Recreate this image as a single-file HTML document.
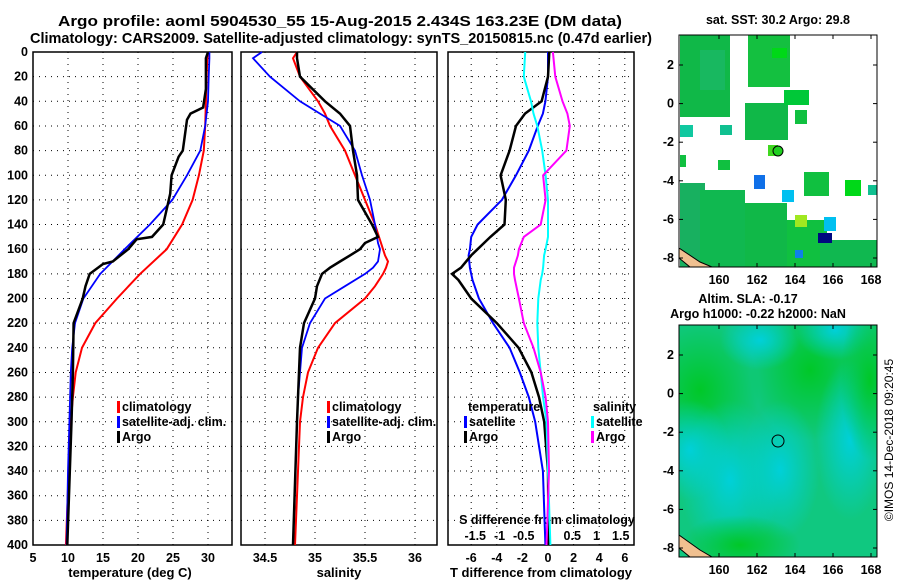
<!DOCTYPE html>
<html><head><meta charset="utf-8"><style>
body{margin:0;background:#fff;}
svg{display:block;font-family:"Liberation Sans",sans-serif;font-weight:bold;}
</style></head><body>
<svg id="c" width="900" height="580" viewBox="0 0 900 580">
<defs>
<radialGradient id="g1" cx="0.5" cy="0.5" r="0.5"><stop offset="0" stop-color="#00d0d8"/><stop offset="1" stop-color="#00d0d8" stop-opacity="0"/></radialGradient>
<radialGradient id="g2" cx="0.5" cy="0.5" r="0.5"><stop offset="0" stop-color="#00c828"/><stop offset="1" stop-color="#00c828" stop-opacity="0"/></radialGradient>
<clipPath id="cm1"><rect x="679" y="35" width="198" height="232"/></clipPath>
<clipPath id="cm2"><rect x="679" y="325" width="198" height="232"/></clipPath>
</defs>
<text x="340" y="26" font-size="15" text-anchor="middle" textLength="564" lengthAdjust="spacingAndGlyphs">Argo profile: aoml 5904530_55 15-Aug-2015 2.434S 163.23E (DM data)</text>
<text x="341" y="43" font-size="15" text-anchor="middle" textLength="622" lengthAdjust="spacingAndGlyphs">Climatology: CARS2009. Satellite-adjusted climatology: synTS_20150815.nc (0.47d earlier)</text>
<g id="p1"></g>
<g id="p2"></g>
<g id="p3"></g>
<g id="m1"></g>
<g id="m2"></g>
<text transform="translate(893,440) rotate(-90)" font-size="12" font-weight="normal" text-anchor="middle">©IMOS 14-Dec-2018 09:20:45</text>
</svg>
<script>
const NS="http://www.w3.org/2000/svg";
const depthsT=[0,5,20,40,60,80,100,120,140,160,180,200,220,240,260,280,300,340,400];
const tempClim=[30,29.9,29.8,29.7,29.6,29.4,28.7,27.8,26.3,24.1,20.3,17,13.9,12,11.1,10.7,10.4,10.1,9.7];
const tempSat=[30.2,30.2,30.1,30,29.6,28.9,27,24.9,21.7,18.1,14.6,12.2,11,10.6,10.4,10.3,10.2,10,9.8];
const depthsA=[0,5,30,45,50,55,80,85,100,115,125,140,150,152,160,170,172,180,190,200,220,260,300,400];
const tempArgo=[30,29.7,29.7,29.3,27.5,27,26.4,25.8,24.8,24.6,24.2,23.6,22,19.8,18.6,16.4,15,13.1,12.5,12.1,10.8,10.7,10.5,9.9];
const depthsS=[0,5,20,40,50,60,80,100,120,140,150,155,160,165,170,175,180,190,200,220,240,260,280,300,400];
const salClim=[34.82,34.78,34.85,35.03,35.1,35.15,35.3,35.4,35.5,35.6,35.64,35.66,35.68,35.7,35.73,35.71,35.68,35.6,35.5,35.2,35.03,34.93,34.88,34.85,34.8];
const salSat=[34.47,34.38,34.55,34.85,35.05,35.25,35.4,35.47,35.55,35.6,35.62,35.63,35.65,35.64,35.63,35.58,35.5,35.3,35.1,34.95,34.87,34.85,34.83,34.82,34.78];
const salArgo=[34.82,34.82,34.85,35.1,35.25,35.35,35.38,35.42,35.43,35.57,35.63,35.5,35.45,35.35,35.25,35.15,35.07,35.02,35,34.89,34.85,34.84,34.83,34.82,34.78];
const depthsD=[0,20,40,50,60,80,100,120,140,150,160,165,175,180,185,200,220,240,260,280,300,340,400];
const dTArgo=[0.1,0,-0.5,-1.8,-2.5,-3,-3.7,-3.3,-3.4,-4.5,-5.5,-6,-6.8,-7.5,-7,-6,-4,-2.3,-1.3,-0.7,-0.3,0,0.05];
const dTSat=[0,0,-0.2,-0.4,-0.8,-1.5,-2.5,-3.6,-5.5,-6,-6.1,-6.2,-6.1,-6,-5.9,-5.4,-4.3,-3,-2.2,-1.5,-1,-0.4,-0.2];
const dSSat=[-0.47,-0.5,-0.35,-0.3,-0.22,-0.12,-0.05,0,0,0,-0.05,-0.08,-0.1,-0.12,-0.15,-0.2,-0.22,-0.2,-0.15,-0.1,-0.03,0,0.05];
const dSArgo=[0.1,0.15,0.3,0.4,0.45,0.38,-0.1,-0.05,-0.15,-0.5,-0.6,-0.62,-0.7,-0.7,-0.68,-0.6,-0.5,-0.3,-0.15,-0.05,0,0.02,-0.03];
const depthTicks=[0,20,40,60,80,100,120,140,160,180,200,220,240,260,280,300,320,340,360,380,400];
const tTicks=[5,10,15,20,25,30];
const sTicks=[34.5,35,35.5,36];
const dTTicks=[-6,-4,-2,0,2,4,6];
const dSTicks=[-1.5,-1,-0.5,0,0.5,1,1.5];
const lonTicks=[160,162,164,166,168];
const latTicks=[2,0,-2,-4,-6,-8];

const Y=d=>52+d*1.2325;
function el(p,t,a){const e=document.createElementNS(NS,t);for(const k in a)e.setAttribute(k,a[k]);p.appendChild(e);return e;}
function txt(p,x,y,s,fs,anc){const e=el(p,'text',{x,y,'font-size':fs,'text-anchor':anc||'middle'});e.textContent=s;return e;}
function line(p,xs,ds,sx,col,w,name){
  const pts=xs.map((v,i)=>sx(v).toFixed(1)+','+Y(ds[i]).toFixed(1)).join(' ');
  const e=el(p,'polyline',{points:pts,fill:'none',stroke:col,'stroke-width':w});
  
  
}
function frame(p,x0,x1,ticks,sx,lab,name){
  const y0=Y(0),y1=Y(400);
  depthTicks.forEach(d=>{el(p,'line',{x1:x0,x2:x1,y1:Y(d),y2:Y(d),stroke:'#000','stroke-dasharray':'1,5','stroke-width':1});});
  ticks.forEach(t=>{el(p,'line',{x1:sx(t),x2:sx(t),y1:y0,y2:y1,stroke:'#000','stroke-dasharray':'1,5','stroke-width':1});
    if(lab){txt(p,sx(t),562,String(t),12.5);}});
  const r=el(p,'rect',{x:x0,y:y0,width:x1-x0,height:y1-y0,fill:'none',stroke:'#000','stroke-width':1.5});
  
  
}
function legend(p,x,y,items){items.forEach((it,i)=>{el(p,'rect',{x:x,y:y+i*15-10,width:3,height:12,fill:it[1]});txt(p,x+5,y+i*15,it[0],12.5,'start');});}

// Panel 1
const p1=document.getElementById('p1');
const sx1=v=>33+(v-5)*7;
frame(p1,33,232,tTicks,sx1,true,'temperature-axes');
depthTicks.forEach(d=>{txt(p1,28,Y(d)+4,String(d),12.5,'end');});
line(p1,tempClim,depthsT,sx1,'#f00',2,'temp-climatology-line');
line(p1,tempSat,depthsT,sx1,'#00f',1.8,'temp-satellite-line');
line(p1,tempArgo,depthsA,sx1,'#000',2.5,'temp-argo-line');
txt(p1,130,577,'temperature (deg C)',13);
legend(p1,117,411,[['climatology','#f00'],['satellite-adj. clim.','#00f'],['Argo','#000']]);

// Panel 2
const p2=document.getElementById('p2');
const sx2=v=>315+(v-35)*100;
frame(p2,241,437,sTicks,sx2,true,'salinity-axes');
line(p2,salClim,depthsS,sx2,'#f00',2,'sal-climatology-line');
line(p2,salSat,depthsS,sx2,'#00f',1.8,'sal-satellite-line');
line(p2,salArgo,depthsS,sx2,'#000',2.5,'sal-argo-line');
txt(p2,339,577,'salinity',13);
legend(p2,327,411,[['climatology','#f00'],['satellite-adj. clim.','#00f'],['Argo','#000']]);

// Panel 3
const p3=document.getElementById('p3');
const sxT=v=>548+v*12.8, sxS=v=>548+v*48.5;
frame(p3,448,634,dTTicks,sxT,true,'difference-axes');
dSTicks.forEach(t=>{txt(p3,sxS(t),540,String(t),12.5);});
txt(p3,547,524,'S difference from climatology',12.5);
line(p3,dTSat,depthsD,sxT,'#00f',2,'dT-satellite-line');
line(p3,dTArgo,depthsD,sxT,'#000',2.5,'dT-argo-line');
line(p3,dSSat,depthsD,sxS,'#0ff',2,'dS-satellite-line');
line(p3,dSArgo,depthsD,sxS,'#f0f',2,'dS-argo-line');
txt(p3,468,411,'temperature',12.5,'start');
legend(p3,464,426,[['satellite','#00f'],['Argo','#000']]);
txt(p3,593,411,'salinity',12.5,'start');
legend(p3,591,426,[['satellite','#0ff'],['Argo','#f0f']]);
txt(p3,541,577,'T difference from climatology',13);

// Maps
function mapAxes(g,y0,y1,lat2y,name){
  const lx=v=>719+(v-160)*19;
  lonTicks.forEach(t=>{el(g,'line',{x1:lx(t),x2:lx(t),y1:y0,y2:y0+4,stroke:'#000'});el(g,'line',{x1:lx(t),x2:lx(t),y1:y1,y2:y1-4,stroke:'#000'});txt(g,lx(t),y1+17,String(t),12.5);});
  latTicks.forEach(t=>{const y=lat2y(t);el(g,'line',{x1:679,x2:683,y1:y,y2:y,stroke:'#000'});el(g,'line',{x1:877,x2:873,y1:y,y2:y,stroke:'#000'});txt(g,674,y+4,String(t),12.5,'end');});
  const r=el(g,'rect',{x:679,y:y0,width:198,height:y1-y0,fill:'none',stroke:'#000','stroke-width':1});
  
  
}
const m1=document.getElementById('m1');
txt(m1,778,24,'sat. SST: 30.2 Argo: 29.8',12.5);
const m1c=el(m1,'g',{'clip-path':'url(#cm1)'});
const blocks=[[680,35,50,82,'#10b848'],[700,50,25,40,'#18b860'],[748,35,42,52,'#14c040'],[772,48,15,10,'#00d818'],[745,103,43,37,'#10b848'],[680,125,13,12,'#10c8a0'],[720,125,12,10,'#10c090'],[784,90,25,15,'#00c838'],[795,110,12,14,'#10c040'],[768,145,10,11,'#40d820'],[718,160,12,10,'#10c040'],[680,155,6,12,'#10c040'],[680,183,25,84,'#18b060'],[700,190,45,77,'#10b850'],[745,203,42,64,'#10b848'],[787,220,40,47,'#10c040'],[820,240,57,27,'#10b850'],[804,172,25,24,'#10c040'],[845,180,16,16,'#00d818'],[868,185,9,10,'#10c090'],[754,175,11,14,'#1070e8'],[782,190,12,12,'#00c0f0'],[824,217,12,14,'#00c0f0'],[818,233,14,10,'#000880'],[795,250,8,8,'#1080e8'],[795,215,12,12,'#a0e820']];
blocks.forEach(b=>{el(m1c,'rect',{x:b[0],y:b[1],width:b[2],height:b[3],fill:b[4]});});
el(m1c,'polygon',{points:'679,248 700,262 712,267 690,267 679,258',fill:'#f0c090',stroke:'#000'});
el(m1,'circle',{cx:778,cy:151,r:5,fill:'#20d020',stroke:'#000'});
mapAxes(m1,35,267,v=>65-(v-2)*19.3,'sst-map-frame');

const m2=document.getElementById('m2');
txt(m2,748,303,'Altim. SLA: -0.17',12.5);
txt(m2,758,318,'Argo h1000: -0.22 h2000: NaN',12.5);
const m2c=el(m2,'g',{'clip-path':'url(#cm2)'});
el(m2c,'rect',{x:679,y:325,width:198,height:232,fill:'#10c880'});
[[700,390,60,70,'g2'],[810,370,60,70,'g2'],[760,340,40,30,'g1'],[835,330,40,30,'g1'],[730,480,50,80,'g1'],[780,470,40,70,'g1'],[850,440,35,80,'g1'],[690,450,40,50,'g1'],[870,380,30,80,'g2'],[740,545,60,30,'g2']].forEach(b=>{el(m2c,'ellipse',{cx:b[0],cy:b[1],rx:b[2],ry:b[3],fill:'url(#'+b[4]+')'});});
el(m2c,'polygon',{points:'679,535 700,550 712,557 690,557 679,548',fill:'#f0c090',stroke:'#000'});
el(m2,'circle',{cx:778,cy:441,r:6,fill:'none',stroke:'#000'});
mapAxes(m2,325,557,v=>355-(v-2)*19.3,'sla-map-frame');
</script>
</body></html>
